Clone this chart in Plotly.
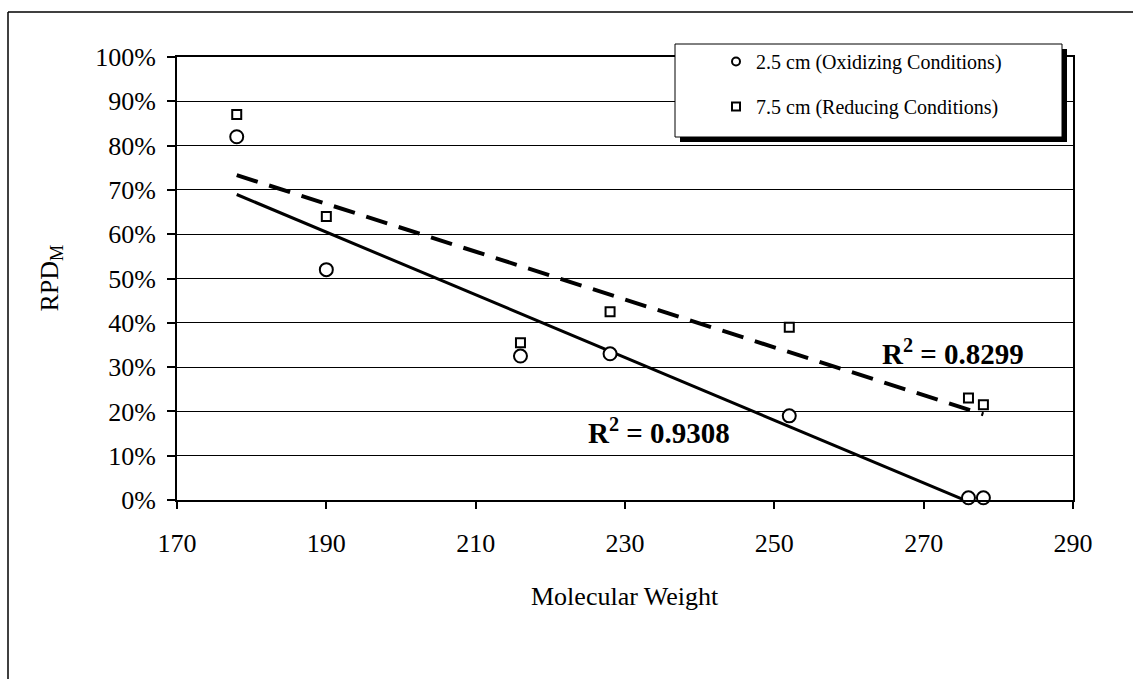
import numpy as np
import plotly.graph_objects as go

# Molecular weight of each compound
mol_weight = [178, 190, 216, 228, 252, 276, 278]

# RPD_M (fraction) at each depth
rpd_oxidizing = [0.82, 0.52, 0.325, 0.33, 0.19, 0.005, 0.005]   # 2.5 cm
rpd_reducing = [0.87, 0.64, 0.355, 0.425, 0.39, 0.23, 0.215]     # 7.5 cm

series_names = ["2.5 cm (Oxidizing Conditions)", "7.5 cm (Reducing Conditions)"]
r2_labels = ["0.9308", "0.8299"]

x_ticks = [170, 190, 210, 230, 250, 270, 290]
y_ticks = [0, 0.1, 0.2, 0.3, 0.4, 0.5, 0.6, 0.7, 0.8, 0.9, 1.0]

FONT = "Liberation Serif, Times New Roman, serif"
W, H = 1133, 679
L, R, T, B = 177, 60, 57, 179
PW, PH = W - L - R, H - T - B


def px_x(px):
    return (px - L) / PW


def px_y(py):
    return (H - B - py) / PH


def linear_fit(x, y):
    slope, intercept = np.polyfit(x, y, 1)
    xs = np.array([min(x), max(x)], dtype=float)
    return xs, slope * xs + intercept


fig = go.Figure()

# least-squares trendlines
fx, fy = linear_fit(mol_weight, rpd_oxidizing)
fig.add_trace(go.Scatter(x=fx, y=fy, mode="lines", showlegend=False,
                         line=dict(color="black", width=3), hoverinfo="skip"))
fx, fy = linear_fit(mol_weight, rpd_reducing)
fig.add_trace(go.Scatter(x=fx, y=fy, mode="lines", showlegend=False,
                         line=dict(color="black", width=4, dash="22px,12px"),
                         hoverinfo="skip"))

# measured points
fig.add_trace(go.Scatter(x=mol_weight, y=rpd_oxidizing, mode="markers",
                         showlegend=False, cliponaxis=False,
                         marker=dict(symbol="circle", size=13, color="white",
                                     line=dict(color="black", width=2))))
fig.add_trace(go.Scatter(x=mol_weight, y=rpd_reducing, mode="markers",
                         showlegend=False, cliponaxis=False,
                         marker=dict(symbol="square", size=9, color="white",
                                     line=dict(color="black", width=2))))

# legend entries (smaller symbols than the plotted markers)
fig.add_trace(go.Scatter(x=[None], y=[None], mode="markers", name=series_names[0],
                         legendgroup="a",
                         marker=dict(symbol="circle", size=8, color="white",
                                     line=dict(color="black", width=2))))
fig.add_trace(go.Scatter(x=[None], y=[None], mode="markers", name=series_names[1],
                         legendgroup="b",
                         marker=dict(symbol="square", size=8, color="white",
                                     line=dict(color="black", width=2))))

shapes = [
    # outer frame (left and top edges)
    dict(type="line", xref="paper", yref="paper", x0=px_x(8), x1=px_x(1140),
         y0=px_y(12), y1=px_y(12), line=dict(color="black", width=1.5)),
    dict(type="line", xref="paper", yref="paper", x0=px_x(8), x1=px_x(8),
         y0=px_y(12), y1=px_y(690), line=dict(color="black", width=1.5)),
    # legend box shadow and box
    dict(type="rect", xref="paper", yref="paper", layer="above",
         x0=px_x(680), x1=px_x(1067), y0=px_y(49), y1=px_y(142),
         fillcolor="black", line=dict(width=0)),
    dict(type="rect", xref="paper", yref="paper", layer="above",
         x0=px_x(675), x1=px_x(1062), y0=px_y(44), y1=px_y(137),
         fillcolor="white", line=dict(color="black", width=1)),
]

annotations = [
    dict(x=273.9, y=0.335, xref="x", yref="y", showarrow=False,
         xanchor="center", yanchor="middle",
         text="<b>R<sup>2</sup> = " + r2_labels[1] + "</b>",
         font=dict(family=FONT, size=29, color="black")),
    dict(x=234.6, y=0.155, xref="x", yref="y", showarrow=False,
         xanchor="center", yanchor="middle",
         text="<b>R<sup>2</sup> = " + r2_labels[0] + "</b>",
         font=dict(family=FONT, size=29, color="black")),
    dict(x=0.5, y=px_y(596), xref="paper", yref="paper", showarrow=False,
         xanchor="center", yanchor="middle",
         text="Molecular Weight", font=dict(family=FONT, size=26, color="black")),
    dict(x=px_x(50), y=0.5, xref="paper", yref="paper", showarrow=False,
         xanchor="center", yanchor="middle",
         textangle=-90, text="RPD<sub>M</sub>",
         font=dict(family=FONT, size=26, color="black")),
]

fig.update_layout(
    width=W, height=H,
    margin=dict(l=L, r=R, t=T, b=B, pad=0),
    paper_bgcolor="white", plot_bgcolor="white",
    font=dict(family=FONT, size=26, color="black"),
    shapes=shapes, annotations=annotations,
    legend=dict(x=px_x(716), y=px_y(42), xanchor="left", yanchor="top",
                bgcolor="rgba(0,0,0,0)", borderwidth=0,
                font=dict(family=FONT, size=20, color="black"),
                traceorder="grouped", tracegroupgap=16, itemwidth=30),
)

fig.update_xaxes(range=[170, 290], tickvals=x_ticks, ticks="outside", ticklen=7,
                 tickwidth=1.5, tickcolor="black", showline=True, linecolor="black",
                 linewidth=2, mirror=True, showgrid=False, zeroline=False,
                 ticklabelstandoff=12,
                 tickfont=dict(family=FONT, size=26))
fig.update_yaxes(range=[0, 1], tickvals=y_ticks, tickformat=".0%", ticks="outside",
                 ticklen=8, tickwidth=1.5, tickcolor="black", showline=True,
                 linecolor="black", linewidth=2, mirror=True, showgrid=True,
                 gridcolor="black", gridwidth=1, zeroline=False,
                 ticklabelstandoff=6,
                 tickfont=dict(family=FONT, size=26))

fig.write_html("out.html")
